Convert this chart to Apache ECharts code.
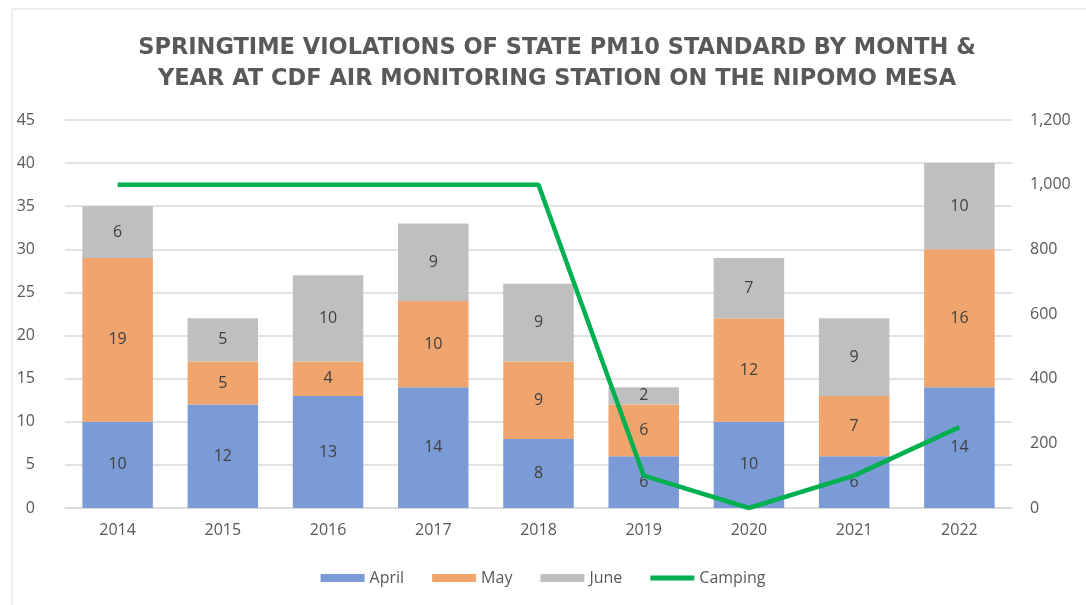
<!DOCTYPE html>
<html><head><meta charset="utf-8">
<script src="https://cdn.jsdelivr.net/npm/echarts@6/dist/echarts.min.js"></script>
<style>html,body{margin:0;padding:0;background:#fff;}#c{width:1086px;height:605px;}</style>
</head><body><div id="c"></div>
<script>
const years = ['2014','2015','2016','2017','2018','2019','2020','2021','2022'];
const april = [10,12,13,14,8,6,10,6,14];
const may = [19,5,4,10,9,6,12,7,16];
const june = [6,5,10,9,9,2,7,9,10];
const camping = [1000,1000,1000,1000,1000,100,0,100,250];
const leftTicks = {min:0,max:45,interval:5};
const rightTicks = {min:0,max:1200,interval:200};

const chart = echarts.init(document.getElementById('c'));
const font = 'Open Sans, Liberation Sans, sans-serif';
const lbl = {show:true,position:'inside',color:'#404040',fontSize:16,fontFamily:font};
chart.setOption({
  animation:false,
  backgroundColor:'#fff',
  graphic:[{type:'rect',shape:{x:12,y:9,width:1090,height:600},style:{fill:'none',stroke:'#d9d9d9',lineWidth:1}}],
  title:{text:'SPRINGTIME VIOLATIONS OF STATE PM10 STANDARD BY MONTH &\nYEAR AT CDF AIR MONITORING STATION ON THE NIPOMO MESA',
    left:552,textAlign:'center',top:28,
    textStyle:{color:'#595959',fontSize:22.5,fontWeight:'bold',fontFamily:'DejaVu Sans, sans-serif',lineHeight:31}},
  legend:{bottom:14,left:'center',itemWidth:44,itemHeight:8,itemGap:28,
    textStyle:{color:'#595959',fontSize:16,fontFamily:font},
    data:[{name:'April',icon:'rect'},{name:'May',icon:'rect'},{name:'June',icon:'rect'},
      {name:'Camping',icon:'path://M0,0 L44,0 L44,5 L0,5 Z'}]},
  grid:{left:65,right:74,top:120,bottom:97},
  xAxis:{type:'category',data:years,axisTick:{show:false},
    axisLine:{lineStyle:{color:'#d9d9d9',width:1.5}},
    axisLabel:{color:'#595959',fontSize:16,fontFamily:font,margin:14}},
  yAxis:[
    {type:'value',min:leftTicks.min,max:leftTicks.max,interval:leftTicks.interval,
     axisLabel:{color:'#595959',fontSize:16,fontFamily:font,margin:30},
     splitLine:{lineStyle:{color:'#d9d9d9',width:1.5}},axisLine:{show:false}},
    {type:'value',min:rightTicks.min,max:rightTicks.max,interval:rightTicks.interval,
     axisLabel:{color:'#595959',fontSize:16,fontFamily:font,margin:18,
       formatter:v=>v.toLocaleString('en-US')},
     splitLine:{show:false},axisLine:{show:false}}
  ],
  series:[
    {name:'April',type:'bar',stack:'s',data:april,barWidth:'67%',itemStyle:{color:'#7A9BD5'},label:lbl},
    {name:'May',type:'bar',stack:'s',data:may,itemStyle:{color:'#F0A46E'},label:lbl},
    {name:'June',type:'bar',stack:'s',data:june,itemStyle:{color:'#BFBFBF'},label:lbl},
    {name:'Camping',type:'line',yAxisIndex:1,data:camping,symbol:'none',
     lineStyle:{color:'#00B050',width:4.5},itemStyle:{color:'#00B050'}}
  ]
});
</script></body></html>
